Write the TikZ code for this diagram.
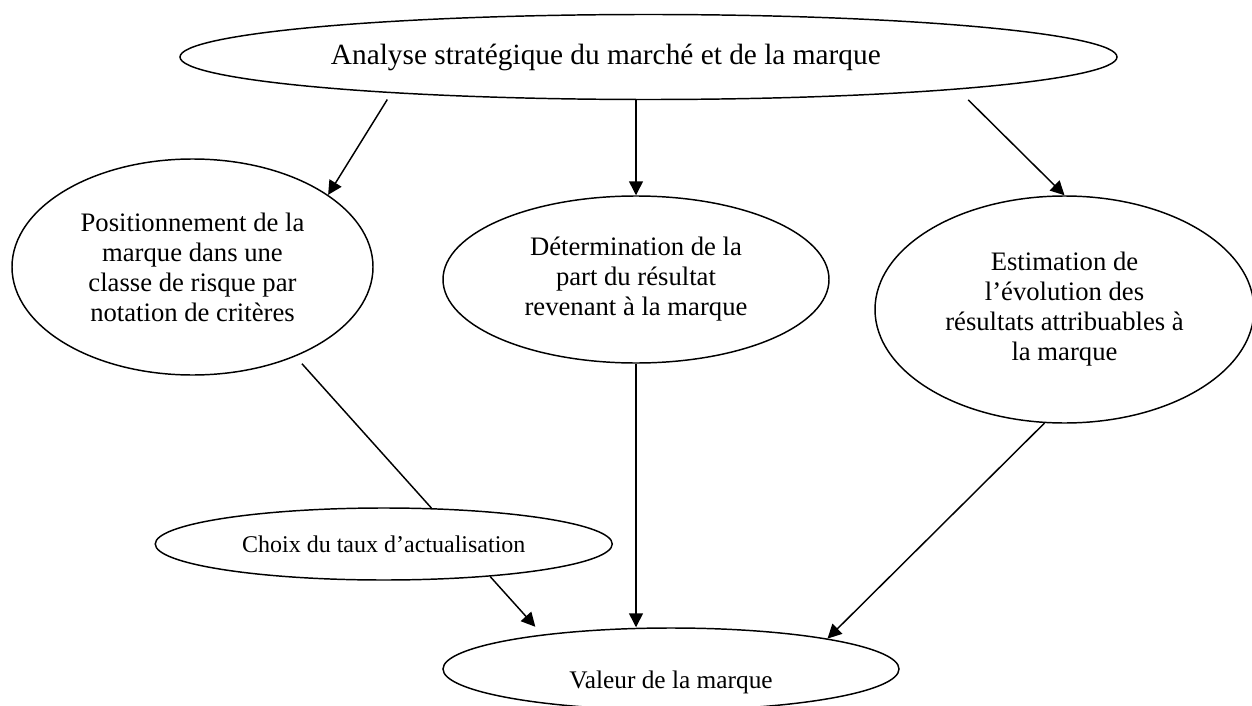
\documentclass[tikz,border=0pt]{standalone}
\usepackage{fontspec}
\setmainfont{Liberation Serif}
\usetikzlibrary{arrows.meta, shapes.geometric}

\begin{document}
\begin{tikzpicture}[x=0.75pt, y=-0.75pt,
    bulle/.style={draw, ellipse, line width=1.1pt, inner sep=0pt, align=center,
        font=\fontsize{20}{22.5}\selectfont},
    fleche/.style={line width=1.1pt, -{Triangle[length=10.5pt, width=10.5pt]}},
    trait/.style={line width=1.1pt}]

\useasboundingbox (0,0) rectangle (1252,706);

% Top ellipse
\node[bulle, minimum width=702.75pt, minimum height=63.75pt,
    label={[xshift=-32pt, font=\fontsize{22}{26}\selectfont]center:Analyse stratégique du marché et de la marque}]
    (analyse) at (648.5,57) {};

% Middle row
\node[bulle, minimum width=270.75pt, minimum height=162pt] (posit) at (192.5,267)
    {Positionnement de la\\marque dans une\\classe de risque par\\notation de critères};
\node[bulle, minimum width=289.5pt, minimum height=125.25pt] (deter) at (636,279.5)
    {Détermination de la\\part du résultat\\revenant à la marque};
\node[bulle, minimum width=284.25pt, minimum height=170.25pt] (estim) at (1064.5,309.5)
    {Estimation de\\l’évolution des\\résultats attribuables à\\la marque};

% Discount rate
\node[bulle, minimum width=342.75pt, minimum height=54pt, font=\fontsize{18}{21}\selectfont]
    (choix) at (383.75,544) {Choix du taux d’actualisation};

% Bottom ellipse
\node[bulle, minimum width=342pt, minimum height=61.5pt,
    label={[yshift=-10pt, font=\fontsize{19}{22}\selectfont]center:Valeur de la marque}]
    (valeur) at (671,669) {};

% Arrows from the analysis
\draw[fleche, shorten <=5.6pt] (analyse.188) -- (posit.28);
\draw[fleche] (analyse.south -| deter.north) -- (deter.north);
\draw[fleche, shorten <=11pt] (analyse.354) -- (estim.north);

% Arrows to the value
\draw[trait, shorten <=7.3pt] (posit.319) -- (choix.37);
\draw[fleche, shorten >=7.8pt] (choix.343) -- (valeur.165);
\draw[fleche] (deter.south) -- (deter.south |- valeur.north);
\draw[fleche] (estim.260) -- (valeur.11);

\end{tikzpicture}
\end{document}
